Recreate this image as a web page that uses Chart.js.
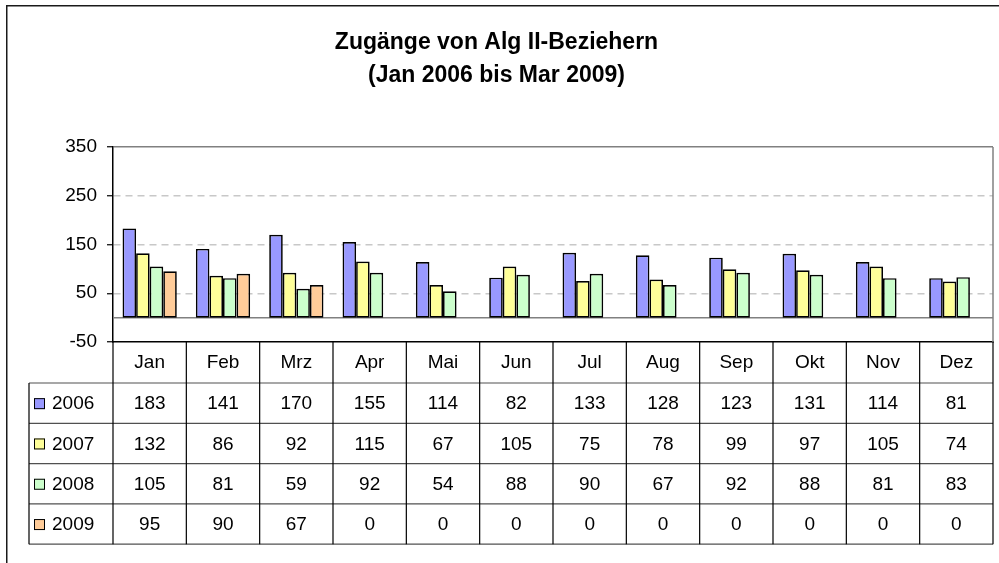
<!DOCTYPE html>
<html><head><meta charset="utf-8">
<script src="https://cdn.jsdelivr.net/npm/chart.js@4/dist/chart.umd.min.js"></script>
<style>html,body{margin:0;padding:0;background:#fff;}canvas{display:block;}</style>
</head><body>
<canvas id="c" width="999" height="563"></canvas>
<script>
const titleLines = ['Zugänge von Alg II-Beziehern', '(Jan 2006 bis Mar 2009)'];
const months = ['Jan','Feb','Mrz','Apr','Mai','Jun','Jul','Aug','Sep','Okt','Nov','Dez'];
const seriesNames = ['2006','2007','2008','2009'];
const v2006 = [183,141,170,155,114,82,133,128,123,131,114,81];
const v2007 = [132,86,92,115,67,105,75,78,99,97,105,74];
const v2008 = [105,81,59,92,54,88,90,67,92,88,81,83];
const v2009 = [95,90,67,0,0,0,0,0,0,0,0,0];
const yTicks = [-50,50,150,250,350];
const seriesColors = ['#9999FF','#FFFF99','#CCFFCC','#FFCC99'];

const FONT = "'Liberation Sans', Arial, sans-serif";
const TXT = 19;
const ROW_H = 40.3;
const seriesValues = [v2006, v2007, v2008, v2009];

const tablePlugin = {
  id: 'tablePlugin',
  beforeDraw(chart) {
    const ctx = chart.ctx;
    ctx.save();
    ctx.fillStyle = '#fff';
    ctx.fillRect(0, 0, chart.width, chart.height);
    ctx.restore();
  },
  beforeDatasetsDraw(chart) {
    const {ctx, chartArea: a, scales: {y}} = chart;
    const y0 = y.getPixelForValue(0);
    ctx.save();
    ctx.strokeStyle = '#808080';
    ctx.lineWidth = 1.5;
    ctx.beginPath();
    ctx.moveTo(a.left, y0); ctx.lineTo(a.right, y0);
    ctx.stroke();
    ctx.restore();
  },
  afterDraw(chart) {
    const {ctx, chartArea: a, scales: {x}} = chart;
    const n = months.length;
    const cw = (a.right - a.left) / n;
    const rowsTop = x.bottom;
    const tableBottom = rowsTop + ROW_H * seriesNames.length;
    const legendLeft = 29;
    ctx.save();
    ctx.strokeStyle = '#808080';
    ctx.lineWidth = 1.5;
    ctx.beginPath();
    ctx.moveTo(a.right, a.top); ctx.lineTo(a.right, a.bottom);
    ctx.stroke();
    ctx.strokeStyle = '#505050';
    ctx.lineWidth = 1.2;
    for (let r = 0; r <= seriesNames.length; r++) {
      const yy = rowsTop + r * ROW_H;
      ctx.beginPath();
      ctx.moveTo(legendLeft, yy); ctx.lineTo(a.right, yy);
      ctx.stroke();
    }
    ctx.strokeStyle = '#000';
    ctx.lineWidth = 1.2;
    ctx.beginPath();
    ctx.moveTo(legendLeft, rowsTop); ctx.lineTo(legendLeft, tableBottom);
    for (let i = 0; i <= n; i++) {
      const xx = a.left + i * cw;
      ctx.moveTo(xx, a.bottom); ctx.lineTo(xx, tableBottom);
    }
    ctx.stroke();
    ctx.fillStyle = '#000';
    ctx.font = TXT + 'px ' + FONT;
    ctx.textBaseline = 'middle';
    for (let s = 0; s < seriesNames.length; s++) {
      const cy = rowsTop + s * ROW_H + ROW_H / 2 + 1;
      ctx.textAlign = 'center';
      for (let i = 0; i < n; i++) {
        ctx.fillText(String(seriesValues[s][i]), x.getPixelForValue(i), cy);
      }
      ctx.fillStyle = seriesColors[s];
      ctx.fillRect(34, cy - 6, 11, 11);
      ctx.strokeStyle = '#000';
      ctx.lineWidth = 1;
      ctx.strokeRect(34.5, cy - 5.5, 10, 10);
      ctx.fillStyle = '#000';
      ctx.textAlign = 'left';
      ctx.fillText(seriesNames[s], 52, cy);
    }
    ctx.strokeStyle = '#1a1a1a';
    ctx.lineWidth = 1.5;
    ctx.strokeRect(6.75, 5.75, 1100, 700);
    ctx.restore();
  }
};

const datasets = seriesNames.map((name, s) => ({
  label: name,
  data: seriesValues[s],
  backgroundColor: seriesColors[s],
  borderColor: '#000',
  borderWidth: 1.7,
  borderSkipped: false,
  inflateAmount: 0,
  categoryPercentage: 0.74,
  barPercentage: 1.0
}));

new Chart(document.getElementById('c'), {
  type: 'bar',
  data: { labels: months, datasets },
  options: {
    responsive: false,
    animation: false,
    devicePixelRatio: 1,
    layout: { padding: { left: 0, right: 6, top: 0, bottom: 180 } },
    plugins: {
      legend: { display: false },
      tooltip: { enabled: false },
      title: {
        display: true,
        text: titleLines,
        color: '#000',
        font: { family: FONT, size: 23, weight: 'bold', lineHeight: 33 / 23 },
        padding: { top: 26.5, bottom: 54.5 }
      }
    },
    scales: {
      x: {
        grid: { display: false, drawTicks: false },
        border: { display: true, color: '#000', width: 1.5 },
        ticks: { color: '#000', font: { family: FONT, size: TXT }, padding: 9, maxRotation: 0, autoSkip: false },
        afterFit(scale) { scale.height = 41; }
      },
      y: {
        min: -50, max: 350,
        afterBuildTicks(scale) { scale.ticks = yTicks.map(v => ({ value: v })); },
        afterFit(scale) { scale.width = 113; },
        grid: {
          drawTicks: true,
          tickLength: 6,
          tickColor: '#000',
          tickWidth: 1.2,
          lineWidth: 1.5,
          color(ctx) {
            const v = ctx.tick ? ctx.tick.value : null;
            if (v === -50) return 'rgba(0,0,0,0)';
            if (v === 350) return '#808080';
            return '#C8C8C8';
          }
        },
        border: {
          display: true, color: '#000', width: 1.5,
          dash(ctx) {
            const v = ctx.tick ? ctx.tick.value : null;
            return (v === null || v === 350 || v === -50) ? [] : [7, 5];
          }
        },
        ticks: { color: '#000', font: { family: FONT, size: TXT }, padding: 10 }
      }
    }
  },
  plugins: [tablePlugin]
});
</script>
</body></html>
